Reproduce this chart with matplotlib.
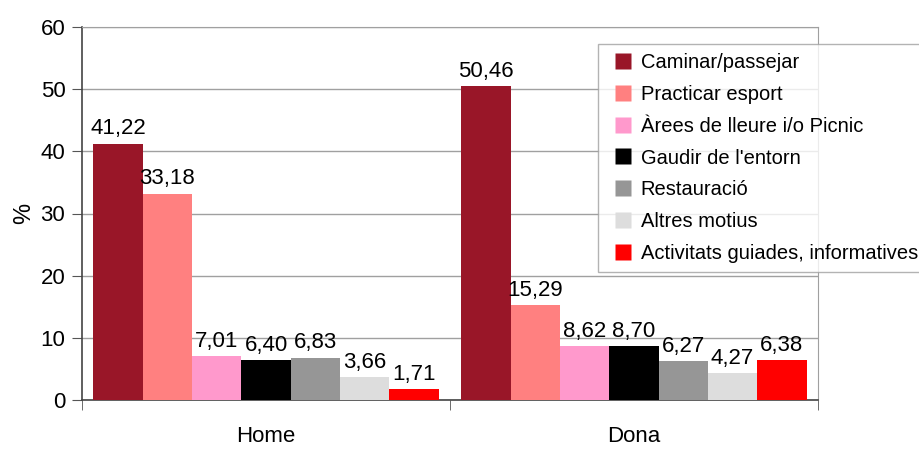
import matplotlib
matplotlib.use("Agg")
import matplotlib.pyplot as plt
from matplotlib.lines import Line2D
import numpy as np

plt.rcParams['font.family'] = ['Liberation Sans', 'DejaVu Sans']

categories = ['Home', 'Dona']
series = ['Caminar/passejar', 'Practicar esport', 'Àrees de lleure i/o Picnic',
          "Gaudir de l'entorn", 'Restauració', 'Altres motius',
          'Activitats guiades, informatives']
values = [
    [41.22, 50.46],
    [33.18, 15.29],
    [7.01, 8.62],
    [6.40, 8.70],
    [6.83, 6.27],
    [3.66, 4.27],
    [1.71, 6.38],
]
colors = ['#991628', '#FF8080', '#FF99CC', '#000000', '#969696', '#DDDDDD', '#FF0000']

fig = plt.figure(figsize=(9.2, 4.5), dpi=100)
ax = fig.add_axes([82/920, 1-400/450, (818-82)/920, (400-27)/450])

n = len(series)
w = 0.134
x = np.arange(len(categories))
for i, (s, v, c) in enumerate(zip(series, values, colors)):
    pos = x + (i - (n-1)/2) * w
    bars = ax.bar(pos, v, width=w, color=c, label=s, zorder=3)
    for b, val in zip(bars, v):
        ax.text(b.get_x() + b.get_width()/2, val + 0.7, f"{val:.2f}".replace('.', ','),
                ha='center', va='bottom', fontsize=16, zorder=4)

ax.set_xlim(-0.5, 1.5)
ax.set_ylim(0, 60)
ax.set_yticks(range(0, 61, 10))
ax.yaxis.grid(True, color='#A0A0A0', linewidth=1, zorder=0)
ax.set_xticks(x)
ax.set_xticklabels(categories)
ax.set_xticks([-0.5, 0.5, 1.5], minor=True)
ax.tick_params(axis='x', which='major', length=0, labelsize=16, pad=19)
ax.tick_params(axis='x', which='minor', length=7, color='#555555')
ax.tick_params(axis='y', length=7, color='#555555', labelsize=16, pad=5)
for sp in ['top', 'right']:
    ax.spines[sp].set_color('#A0A0A0')
for sp in ['left', 'bottom']:
    ax.spines[sp].set_color('#444444')
    ax.spines[sp].set_linewidth(1.2)
ax.set_ylabel('%', fontsize=17, labelpad=4)

handles = [Line2D([], [], linestyle='none', marker='s', markersize=12.2,
                  markerfacecolor=c, markeredgecolor='none') for c in colors]
leg = fig.legend(handles, series, loc='upper left', bbox_to_anchor=(598/920, 1-44/450),
                 fontsize=14.5, frameon=True, fancybox=False, edgecolor='#A0A0A0',
                 handlelength=1.55, handletextpad=0.1, labelspacing=0.63,
                 borderpad=0.47, borderaxespad=0)
leg.get_frame().set_linewidth(1)

fig.savefig('out.png', dpi=100)
